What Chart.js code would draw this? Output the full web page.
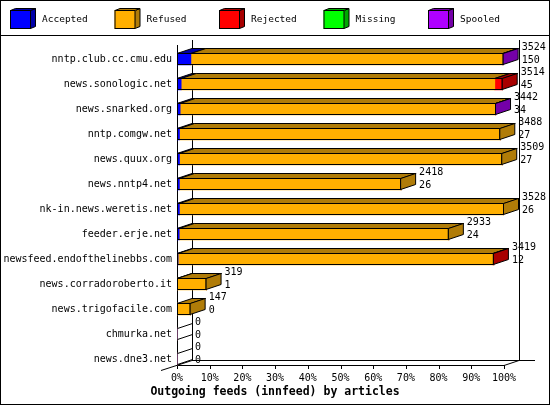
<!DOCTYPE html>
<html lang="en">
<head>
  <meta charset="UTF-8">
  <title>Outgoing feeds (innfeed) by articles</title>
  <script src="https://cdn.jsdelivr.net/npm/chart.js@4.4.1/dist/chart.umd.min.js"></script>
  <style>
    html, body { margin: 0; padding: 0; background: #fff; }
    canvas { display: block; }
  </style>
</head>
<body>
  <canvas id="myChart" width="550" height="405"></canvas>

  <script>
    // feeds, top to bottom
    let feeds = ['nntp.club.cc.cmu.edu', 'news.sonologic.net', 'news.snarked.org', 'nntp.comgw.net',
      'news.quux.org', 'news.nntp4.net', 'nk-in.news.weretis.net', 'feeder.erje.net',
      'newsfeed.endofthelinebbs.com', 'news.corradoroberto.it', 'news.trigofacile.com',
      'chmurka.net', 'news.dne3.net'];
    // offered articles (upper number next to each bar)
    let totals = [3524, 3514, 3442, 3488, 3509, 2418, 3528, 2933, 3419, 319, 147, 0, 0];
    let accepted = [150, 45, 34, 27, 27, 26, 26, 24, 12, 1, 0, 0, 0];
    let refused = [3366, 3384, 3402, 3461, 3482, 2392, 3502, 2909, 3397, 318, 147, 0, 0];
    let rejected = [0, 85, 0, 0, 0, 0, 0, 0, 10, 0, 0, 0, 0];
    let missing = [0, 0, 0, 0, 0, 0, 0, 0, 0, 0, 0, 0, 0];
    let spooled = [8, 0, 6, 0, 0, 0, 0, 0, 0, 0, 0, 0, 0];
    let tickLabels = ['0%', '10%', '20%', '30%', '40%', '50%', '60%', '70%', '80%', '90%', '100%'];
    let chartTitle = 'Outgoing feeds (innfeed) by articles';

    let seriesNames = ['Accepted', 'Refused', 'Rejected', 'Missing', 'Spooled'];
    let frontColors = ['#0000ff', '#ffaf00', '#ff0000', '#00ff00', '#af00ff'];
    let darkColors = ['#0000a8', '#b07c08', '#a80000', '#00a800', '#7400a8'];

    const MONO = '"DejaVu Sans Mono", "Liberation Mono", monospace';
    const DX = 15, DY = 5;   // depth of the 3d boxes

    function poly(ctx, pts, fill) {
      ctx.beginPath();
      ctx.moveTo(pts[0][0], pts[0][1]);
      for (let k = 1; k < pts.length; k++) ctx.lineTo(pts[k][0], pts[k][1]);
      ctx.closePath();
      if (fill) { ctx.fillStyle = fill; ctx.fill(); }
      ctx.stroke();
    }

    function line(ctx, pts) {
      ctx.beginPath();
      ctx.moveTo(pts[0][0], pts[0][1]);
      for (let k = 1; k < pts.length; k++) ctx.lineTo(pts[k][0], pts[k][1]);
      ctx.stroke();
    }

    const boxes3d = {
      id: 'boxes3d',
      beforeDraw(chart) {
        const ctx = chart.ctx, w = chart.width, h = chart.height;
        ctx.save();
        ctx.fillStyle = '#fff';
        ctx.fillRect(0, 0, w, h);
        ctx.strokeStyle = '#000';
        ctx.lineWidth = 1;
        ctx.strokeRect(0.5, 0.5, w - 1, h - 1);
        line(ctx, [[0, 35.5], [w, 35.5]]);

        // legend with little cubes
        ctx.font = '9.5px ' + MONO;
        ctx.textBaseline = 'middle';
        ctx.textAlign = 'left';
        seriesNames.forEach((name, k) => {
          const x = 10 + k * 104.5;
          poly(ctx, [[x + 20.5, 10.5], [x + 25.5, 8.5], [x + 25.5, 26.5], [x + 20.5, 28.5]], darkColors[k]);
          poly(ctx, [[x + 0.5, 10.5], [x + 5.5, 8.5], [x + 25.5, 8.5], [x + 20.5, 10.5]], darkColors[k]);
          ctx.fillStyle = frontColors[k];
          ctx.fillRect(x, 10, 21, 19);
          ctx.strokeRect(x + 0.5, 10.5, 20, 18);
          ctx.fillStyle = '#000';
          ctx.fillText(name, x + 32, 20);
        });

        // title under the axis
        ctx.font = 'bold 11.5px ' + MONO;
        ctx.textAlign = 'center';
        ctx.fillText(chartTitle, w / 2, 392);
        ctx.restore();
      },

      beforeDatasetsDraw(chart) {
        const ctx = chart.ctx, xs = chart.scales.x, ys = chart.scales.y;
        const left = Math.round(xs.left), right = Math.round(xs.right);
        const floor = Math.round(ys.getPixelForValue(feeds.length - 1) + 6);
        const back = Math.round(chart.chartArea.top - 6.5);
        ctx.save();
        ctx.strokeStyle = '#000';
        ctx.lineWidth = 1;
        // walls
        line(ctx, [[left + 0.5, back + DY], [left + 0.5, floor]]);
        line(ctx, [[left + DX + 0.5, back], [left + DX + 0.5, floor - DY]]);
        line(ctx, [[right + DX + 0.5, back], [right + DX + 0.5, floor - DY]]);
        // floor
        line(ctx, [[left, floor + 0.5], [right, floor + 0.5], [right + DX, floor - DY + 0.5]]);
        line(ctx, [[left + DX, floor - DY + 0.5], [right + DX + 16, floor - DY + 0.5]]);
        line(ctx, [[left - 16, floor + 5.5], [left + DX, floor - DY + 0.5]]);
        // tick marks
        xs.ticks.forEach(t => {
          const x = Math.round(xs.getPixelForValue(t.value)) + 0.5;
          line(ctx, [[x, floor], [x, floor + 4]]);
        });
        ctx.restore();
      },

      afterDatasetsDraw(chart) {
        const ctx = chart.ctx, xs = chart.scales.x;
        const metas = chart.data.datasets.map((d, k) => chart.getDatasetMeta(k));
        ctx.save();
        ctx.strokeStyle = '#000';
        ctx.lineWidth = 1;
        feeds.forEach((feed, i) => {
          const y = metas[0].data[i].getProps(['y'], true).y;
          const top = y - 6 + 0.5, bottom = y + 6 - 0.5;
          const x0 = xs.left;
          let last = -1, end = x0;
          metas.forEach((meta, k) => {
            const p = meta.data[i].getProps(['x', 'base'], true);
            const a = Math.min(p.x, p.base), b = Math.max(p.x, p.base);
            if (b - a < 0.05) return;
            poly(ctx, [[a, top], [b, top], [b + DX, top - DY], [a + DX, top - DY]], darkColors[k]);
            last = k;
            end = b;
          });
          if (last >= 0) {
            ctx.strokeRect(x0 + 0.5, top, end - x0 - 1, bottom - top);
            poly(ctx, [[end - 0.5, top], [end - 0.5 + DX, top - DY], [end - 0.5 + DX, bottom - DY], [end - 0.5, bottom]], darkColors[last]);
          } else {
            line(ctx, [[x0 + 0.5, top], [x0 + DX + 0.5, top - DY]]);
            line(ctx, [[x0 + 0.5, bottom], [x0 + DX + 0.5, bottom - DY]]);
          }

          // counts at the end of each bar
          const lx = xs.getPixelForValue(totals[i]) + DX + 3;
          ctx.font = '10px ' + MONO;
          ctx.fillStyle = '#000';
          ctx.textAlign = 'left';
          ctx.textBaseline = 'middle';
          ctx.fillText(String(totals[i]), lx, y - 11.5);
          ctx.fillText(String(accepted[i]), lx, y + 1);
        });
        ctx.restore();
      }
    };

    let series = [accepted, refused, rejected, missing, spooled];

    new Chart('myChart', {
      type: 'bar',
      data: {
        labels: feeds,
        datasets: series.map((values, k) => ({
          label: seriesNames[k],
          data: values,
          backgroundColor: frontColors[k],
          borderWidth: 0,
          barThickness: 12
        }))
      },
      options: {
        indexAxis: 'y',
        responsive: false,
        animation: false,
        layout: { padding: { left: 0, right: 46, top: 46.5, bottom: 19.8 } },
        plugins: {
          legend: { display: false },
          title: { display: false },
          tooltip: { enabled: false }
        },
        scales: {
          x: {
            type: 'linear',
            stacked: true,
            min: 0,
            max: Math.max(...totals),
            afterBuildTicks: (scale) => {
              scale.ticks = tickLabels.map((t, k) => ({ value: scale.max * k / (tickLabels.length - 1) }));
            },
            ticks: {
              callback: (v, k) => tickLabels[k],
              autoSkip: false,
              maxRotation: 0,
              padding: 1,
              color: '#000',
              font: { family: MONO, size: 10 }
            },
            grid: { display: false, drawTicks: false },
            border: { display: false },
            afterFit: (scale) => { scale.height = 13.7; }
          },
          y: {
            stacked: true,
            ticks: {
              autoSkip: false,
              padding: 5,
              color: '#000',
              font: { family: MONO, size: 10 }
            },
            grid: { display: false, drawTicks: false },
            border: { display: false },
            afterFit: (scale) => { scale.width = 177; }
          }
        }
      },
      plugins: [boxes3d]
    });
  </script>
</body>
</html>
